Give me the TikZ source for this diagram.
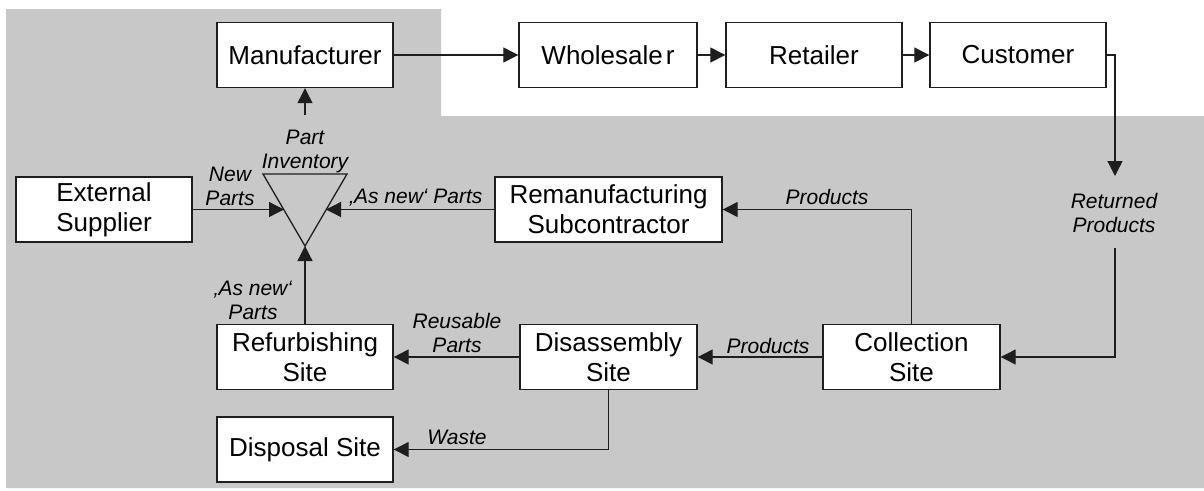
\documentclass[tikz,border=0pt]{standalone}
\usepackage{fontspec}
\setmainfont{Liberation Sans}
\usetikzlibrary{arrows.meta}
\definecolor{bggray}{RGB}{200,200,200}
\definecolor{ink}{RGB}{30,30,30}
\tikzset{
  stage/.style={draw=ink, line width=1.4pt, fill=white, inner sep=0pt,
    minimum height=65pt, align=center,
    font=\fontsize{26}{30}\selectfont},
  flow/.style={draw=ink, line width=1.3pt,
    -{Triangle[length=15pt,width=15pt]}},
  plain/.style={draw=ink, line width=1.3pt},
  flowlabel/.style={inner sep=0pt, align=center,
    font=\fontsize{21}{24}\selectfont\itshape}
}
\begin{document}
\begin{tikzpicture}[x=1pt,y=-1pt]
\useasboundingbox (0,0) rectangle (1204,490);

% grey area of the reverse logistics network
\fill[bggray] (6,9) -- (441,9) -- (441,116) -- (1204,116) -- (1204,488) -- (6,488) -- cycle;

% forward chain
\node[stage, minimum width=176pt] (manu)   at (305,55)  {Manufacturer};
\node[stage, minimum width=178pt] (whole)  at (608,55)  {Wholesale\kern3pt r};
\node[stage, minimum width=176pt] (retail) at (814,55)  {Retailer};
\node[stage, minimum width=176pt] (cust)   at (1018,55) {Customer};

% reverse chain
\node[stage, minimum width=176pt] (ext)    at (104,209.5)   {External\\Supplier};
\node[stage, minimum width=227pt] (reman)  at (608.5,209.5) {Remanufacturing\\Subcontractor};
\node[stage, minimum width=176pt] (refurb) at (305,357)     {Refurbishing\\Site};
\node[stage, minimum width=177pt] (disas)  at (608.5,357)   {Disassembly\\Site};
\node[stage, minimum width=177pt] (coll)   at (911.5,357)   {Collection\\Site};
\node[stage, minimum width=176pt] (disp)   at (305,449.5)   {Disposal Site};

% part inventory triangle
\coordinate (invL) at (263,174);
\coordinate (invR) at (347,174);
\coordinate (invA) at (305,246);
\draw[ink, line width=1.3pt, line join=miter] (invL) -- (invR) -- (invA) -- cycle;
\coordinate (invInL) at (284,209.5);
\coordinate (invInR) at (326,209.5);
\coordinate (invOut) at (305,115);

% forward flows
\draw[flow] (manu) -- (whole);
\draw[flow] (whole) -- (retail);
\draw[flow] (retail) -- (cust);
\draw[flow] (invOut) -- (manu.south);

% returned products
\coordinate (retTop) at (1115,176);
\coordinate (retBot) at (1115,248);
\draw[flow] (cust.east) -- (cust.east -| retTop) -- (retTop);
\draw[flow] (retBot) |- (coll.east);

% collection and sorting
\draw[flow] (coll.north) |- (reman.east);
\draw[flow] (coll.west) -- (disas.east);
\draw[flow] (disas.west) -- (refurb.east);
\draw[flow] (disas.south) |- (disp.east);

% into the part inventory
\draw[flow] (ext.east) -- (invInL);
\draw[flow] (reman.west) -- (invInR);
\draw[flow] (refurb.north) -- (invA);

% flow labels
\node[flowlabel] (lInv)   at (305,151)  {Part\\Inventory};
\node[flowlabel] (lNew)   at (230,186)  {New\\Parts};
\node[flowlabel] (lAsR)   at (416,198)  {‚As new‘ Parts};
\node[flowlabel] (lAsB)   at (253,300)  {‚As new‘\\Parts};
\node[flowlabel] (lProdT) at (827,197)  {Products};
\node[flowlabel] (lRet)   at (1114,213) {Returned\\Products};
\node[flowlabel] (lReuse) at (457,333)  {Reusable\\Parts};
\node[flowlabel] (lProdB) at (768,346)  {Products};
\node[flowlabel] (lWaste) at (457,437)  {Waste};
\end{tikzpicture}
\end{document}
